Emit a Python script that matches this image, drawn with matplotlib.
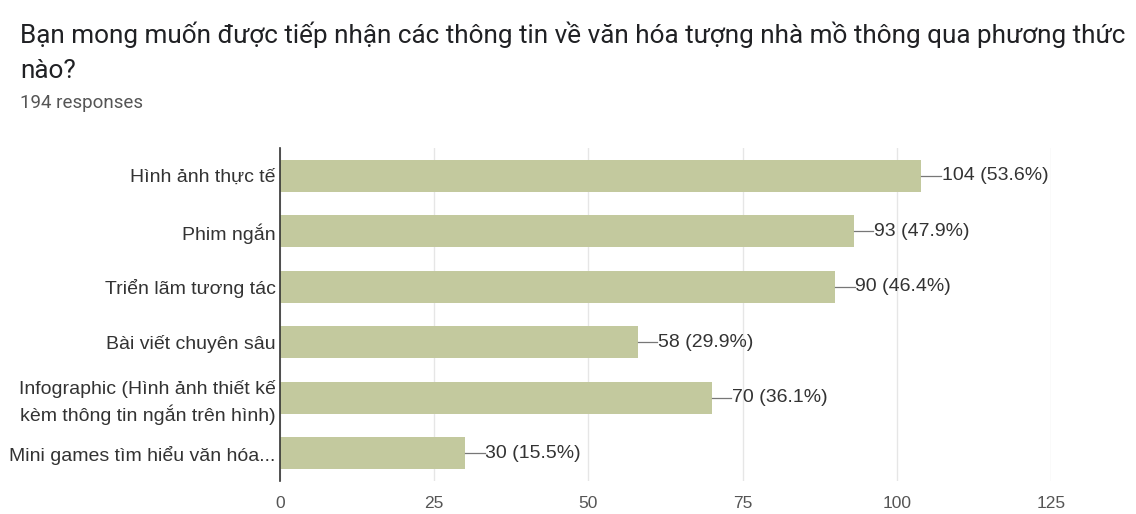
import matplotlib
matplotlib.use("Agg")
import matplotlib.pyplot as plt

title_line1 = "Bạn mong muốn được tiếp nhận các thông tin về văn hóa tượng nhà mồ thông qua phương thức"
title_line2 = "nào?"
subtitle = "194 responses"

categories = [
    "Hình ảnh thực tế",
    "Phim ngắn",
    "Triển lãm tương tác",
    "Bài viết chuyên sâu",
    "Infographic (Hình ảnh thiết kế\nkèm thông tin ngắn trên hình)",
    "Mini games tìm hiểu văn hóa...",
]
counts = [104, 93, 90, 58, 70, 30]
percents = [53.6, 47.9, 46.4, 29.9, 36.1, 15.5]
xticks = [0, 25, 50, 75, 100, 125]

bar_color = "#c3c99e"
text_color = "#333333"
label_font = "Liberation Sans"

fig = plt.figure(figsize=(11.36, 5.14), dpi=100)
fig.text(20 / 1136, 1 - 35 / 514, title_line1, fontsize=18.8, family="Roboto",
         color="#202124", va="center", ha="left")
fig.text(20 / 1136, 1 - 71 / 514, title_line2, fontsize=18.8, family="Roboto",
         color="#202124", va="center", ha="left")
fig.text(20 / 1136, 1 - 103 / 514, subtitle, fontsize=13.5, family="Roboto",
         color="#555555", va="center", ha="left")

ax = fig.add_axes([280 / 1136, 1 - 481 / 514, (1051 - 280) / 1136, (481 - 148) / 514])
y = list(range(len(categories)))
ax.barh(y, counts, height=0.58, color=bar_color, zorder=2)
ax.set_ylim(len(categories) - 0.5, -0.5)
ax.set_xlim(0, 125)
ax.set_xticks(xticks)
ax.set_xticklabels([str(t) for t in xticks], fontsize=12.5, color="#555555",
                   family=label_font)
ax.set_yticks(y)
ax.set_yticklabels(categories, fontsize=14, color=text_color,
                   family=label_font, linespacing=1.35)
ax.tick_params(axis="both", length=0, pad=3)
ax.tick_params(axis="x", pad=11)
ax.grid(axis="x", color="#e6e6e6", linewidth=1, zorder=0)
for s in ["top", "right", "bottom"]:
    ax.spines[s].set_visible(False)
ax.spines["left"].set_color("#333333")
ax.spines["left"].set_linewidth(1.2)
ax.spines["left"].set_zorder(3)

for yi, c, p in zip(y, counts, percents):
    ax.plot([c, c + 3.2], [yi, yi], color="#777777", linewidth=0.9, zorder=3,
            clip_on=False)
    ax.text(c + 3.3, yi, f"{c} ({p}%)", va="center", ha="left", fontsize=14,
            color=text_color, family=label_font)

fig.savefig("out.png", dpi=100, facecolor="white")
